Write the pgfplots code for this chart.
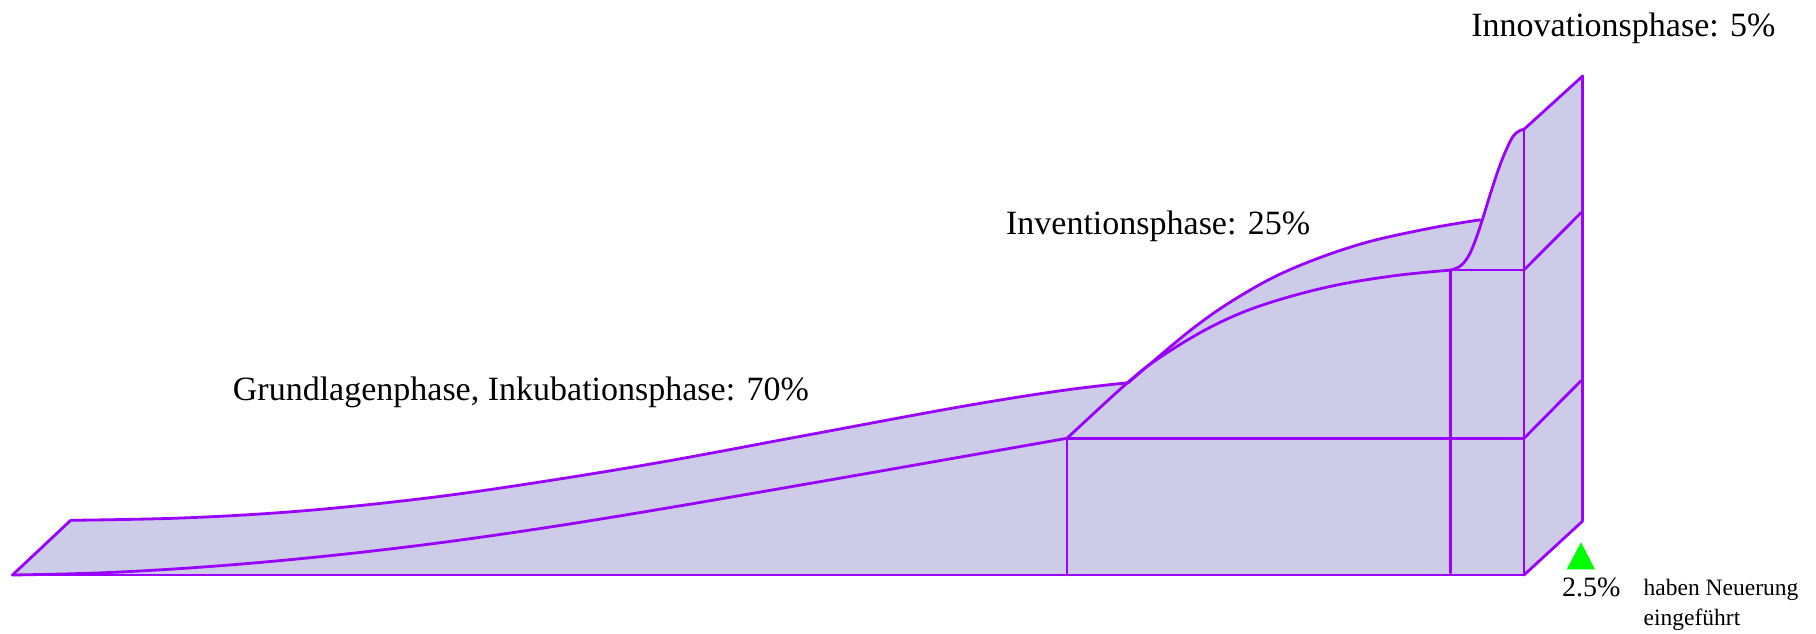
\documentclass[border=0pt]{standalone}
\usepackage{pgfplots}
\pgfplotsset{compat=1.18}
\usepackage{fontspec}
\setmainfont{Liberation Serif}
\definecolor{edge}{RGB}{153,0,255}
\definecolor{face}{RGB}{204,204,232}
\definecolor{tri}{RGB}{0,255,0}
\begin{document}
\begin{tikzpicture}
\begin{axis}[
  width=908pt, height=316.5pt, scale only axis,
  xmin=0, xmax=1816, ymin=0, ymax=633, y dir=reverse,
  hide axis, clip=false,
  E/.style={draw=edge, line width=1.4pt, line join=round, line cap=round, mark=none, solid},
]
% invisible frame
\addplot[draw=none, mark=none] coordinates {(0,0) (1816,633)};
% silhouette fill
\addplot[fill=face, draw=none, mark=none] coordinates {
 (12.5,575) (70.7,520.3) (178.6,518.1) (285.7,512.2) (392.9,502.0) (500,488.1) (653,463.6)
 (806,435.3) (959,407.0) (1060,390.8) (1128.3,382.7)
 (1193,328.3) (1243,294.3) (1293,268.3) (1360,244.2) (1426.7,228.9) (1480,219.8)
 (1483.3,216.7) (1490,195) (1500,165) (1510,141.7) (1516,133) (1520,130.5) (1524,129.3)
 (1582.7,76) (1582.7,521) (1524,575) (12.5,575)};
% green marker
\addplot[fill=tri, draw=none, mark=none] coordinates {(1566.7,569.3) (1581,542.3) (1595,569.3) (1566.7,569.3)};
% front lower curve
\addplot[E, smooth, tension=0.6] coordinates {
 (12.5,575) (107,572.6) (214,566.2) (321,556.6) (428,544.3) (535,529.3) (650,510.9)
 (806,484.1) (959,457.3) (1067,438.3)};
% back upper curve
\addplot[E, smooth, tension=0.6] coordinates {
 (70.7,520.3) (178.6,518.1) (285.7,512.2) (392.9,502.0) (500,488.1) (653,463.6)
 (806,435.3) (959,407.0) (1060,390.8) (1128.3,382.7)};
% front invention curve
\addplot[E, smooth, tension=0.6] coordinates {
 (1067,438.3) (1126.7,383.4) (1160,357.4) (1210,327.4) (1260,305.9) (1326.7,287.2) (1393,275.9) (1450.7,270.1)};
% back invention curve
\addplot[E, smooth, tension=0.6] coordinates {
 (1128.3,382.7) (1193,328.3) (1243,294.3) (1293,268.3) (1360,244.2) (1426.7,228.9) (1480,219.8)};
% sigmoid
\addplot[E, smooth, tension=0.6] coordinates {
 (1450.7,270) (1457,268) (1463.3,263.3) (1470,253.3) (1476.7,236.7) (1483.3,216.7) (1490,195)
 (1500,165) (1510,141.7) (1516,133) (1520,130.5) (1524,129.3)};
% straight edges
\addplot[E] coordinates {(12.5,575) (1524,575)};
\addplot[E] coordinates {(12.5,575) (70.7,520.3)};
\addplot[E] coordinates {(1067,438.3) (1067,575)};
\addplot[E] coordinates {(1450.7,270) (1450.7,573)};
\addplot[E] coordinates {(1524,129.3) (1524,575)};
\addplot[E] coordinates {(1067,438.3) (1524,438.3)};
\addplot[E] coordinates {(1450.7,270) (1524,270)};
\addplot[E] coordinates {(1524,129.3) (1582.7,76)};
\addplot[E] coordinates {(1524,270) (1581,212.7)};
\addplot[E] coordinates {(1524,438.3) (1581,380.7)};
\addplot[E] coordinates {(1524,575) (1582.7,521)};
\addplot[E] coordinates {(1582.7,76) (1582.7,521)};
% labels
\node[anchor=base west, inner sep=0] at (axis cs:1471,36) {\fontsize{17}{20}\selectfont Innovationsphase: 5\%};
\node[anchor=base west, inner sep=0] at (axis cs:1005.7,234) {\fontsize{17}{20}\selectfont Inventionsphase: 25\%};
\node[anchor=base west, inner sep=0] at (axis cs:232.5,400) {\fontsize{17}{20}\selectfont Grundlagenphase, Inkubationsphase: 70\%};
\node[anchor=base west, inner sep=0] at (axis cs:1561.7,596.7) {\fontsize{14}{17}\selectfont 2.5\%};
\node[anchor=base west, inner sep=0] at (axis cs:1643.3,595.7) {\fontsize{11.75}{14.75}\selectfont haben Neuerung};
\node[anchor=base west, inner sep=0] at (axis cs:1643.3,625) {\fontsize{11.75}{14.75}\selectfont eingeführt};
\end{axis}
\end{tikzpicture}
\end{document}
